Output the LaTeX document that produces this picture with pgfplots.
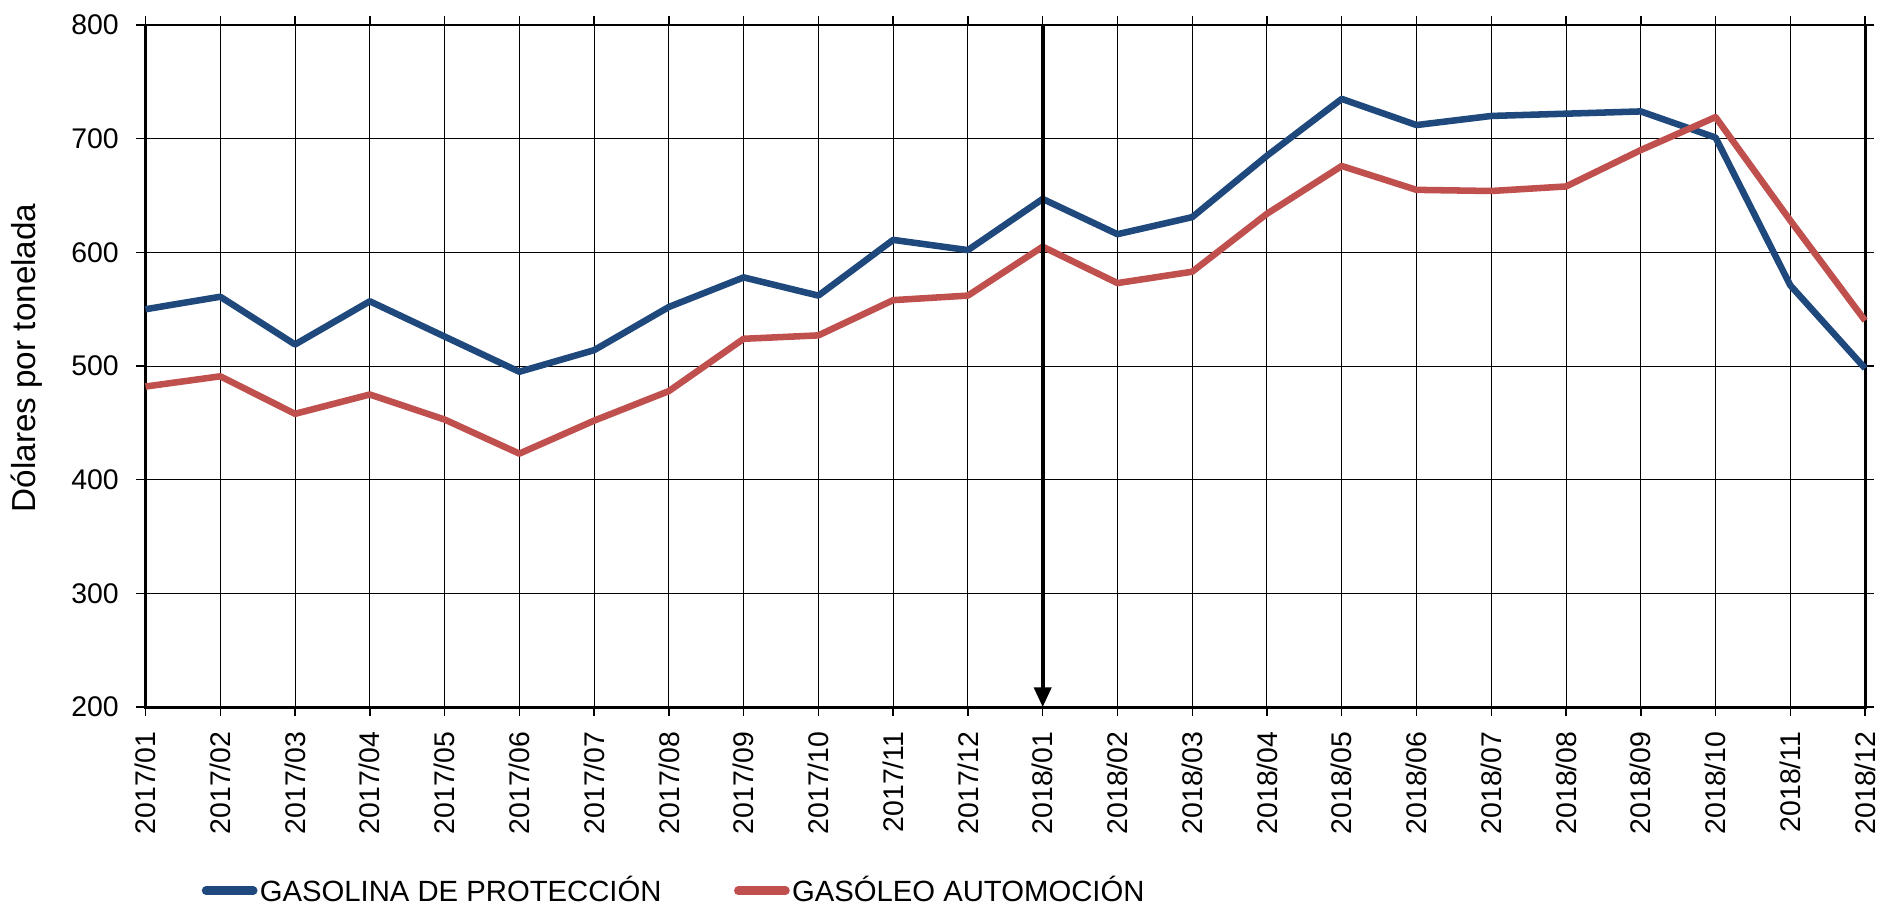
\documentclass[border=0pt]{standalone}
\usepackage{fontspec}
\setmainfont{Liberation Sans}
\usepackage{pgfplots}
\pgfplotsset{compat=1.18}
\usetikzlibrary{arrows.meta}
\definecolor{GasBlue}{HTML}{1F497D}
\definecolor{GasRed}{HTML}{C0504D}

\begin{document}
\begin{tikzpicture}
  \begin{axis}[
    scale only axis,
    width=605pt, height=240pt,
    xmin=0, xmax=23, ymin=200, ymax=800,
    xtick={0,...,23},
    xticklabels={2017/01,2017/02,2017/03,2017/04,2017/05,2017/06,2017/07,2017/08,2017/09,2017/10,2017/11,2017/12,
                 2018/01,2018/02,2018/03,2018/04,2018/05,2018/06,2018/07,2018/08,2018/09,2018/10,2018/11,2018/12},
    ytick={200,300,...,800},
    xticklabel style={rotate=90, anchor=east, font=\normalsize, inner xsep=5.2pt},
    yticklabel style={font=\normalsize, inner xsep=6pt},
    /pgf/number format/assume math mode=true,
    tick align=outside,
    major tick length=3.2pt,
    tick style={black, line width=0.5pt},
    grid=major,
    major grid style={black, line width=0.35pt},
    axis line style={black, line width=1pt},
    ylabel={Dólares por tonelada},
    ylabel style={font=\fontsize{11.7}{14}\selectfont,
      at={(axis description cs:-0.0597,0.512)}, anchor=south, inner sep=0pt},
    legend columns=2,
    legend style={draw=none, fill=none, font=\fontsize{10.3}{12}\selectfont,
      at={(0.0324,-0.269)}, anchor=west, inner sep=0pt,
      nodes={inner sep=0.8pt},
      /tikz/every even column/.style={column sep=24.7pt}},
    legend cell align=left,
    legend image code/.code={\draw[#1, line width=3pt, line cap=round] (1.5pt,0pt) -- (18.1pt,0pt);},
    clip=false,
  ]
    \addplot[GasBlue, line width=2.3pt, line join=round] coordinates {
      (0,550) (1,561) (2,519) (3,557) (4,526) (5,495) (6,514) (7,552) (8,578) (9,562) (10,611) (11,602)
      (12,647) (13,616) (14,631) (15,685) (16,735) (17,712) (18,720) (19,722) (20,724) (21,701) (22,571) (23,498)
    };
    \addlegendentry{GASOLINA DE PROTECCIÓN}
    \addplot[GasRed, line width=2.3pt, line join=round] coordinates {
      (0,482) (1,491) (2,458) (3,475) (4,453) (5,423) (6,452) (7,478) (8,524) (9,527) (10,558) (11,562)
      (12,605) (13,573) (14,583) (15,634) (16,676) (17,655) (18,654) (19,658) (20,690) (21,719) (22,628) (23,540)
    };
    \addlegendentry{GASÓLEO AUTOMOCIÓN}
    \draw[black, line width=1.4pt, -{Triangle[length=7pt, width=6pt]}]
      (axis cs:12,800) -- (axis cs:12,200);
    % fix the page to the reference's margins
    \path (rel axis cs:0,0) ++(-51.2pt,-70.2pt);
    \path (rel axis cs:1,1) ++(5.3pt,8.8pt);
  \end{axis}
\end{tikzpicture}
\end{document}
